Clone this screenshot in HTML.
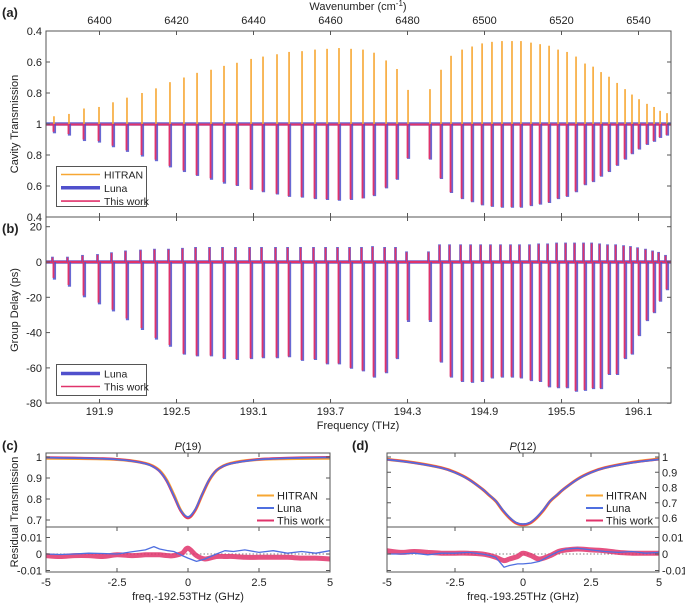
<!DOCTYPE html>
<html><head><meta charset="utf-8">
<style>
html,body{margin:0;padding:0;background:#fff;}
svg{display:block;font-family:"Liberation Sans",Arial,sans-serif;}
text{fill:#222;}
</style></head>
<body>
<svg id="fig" width="685" height="603" viewBox="0 0 685 603" xmlns="http://www.w3.org/2000/svg">
<g id="gA"></g>
<g id="gB"></g>
<g id="gC"></g>
<g id="gD"></g>
<text x="2" y="17" font-size="13" font-weight="bold">(a)</text>
<text x="2" y="233" font-size="13" font-weight="bold">(b)</text>
<text x="2" y="450" font-size="13" font-weight="bold">(c)</text>
<text x="352" y="450" font-size="13" font-weight="bold">(d)</text>
<text x="358" y="10" font-size="11" text-anchor="middle">Wavenumber (cm<tspan dy="-4" font-size="8">-1</tspan><tspan dy="4">)</tspan></text>
<text x="358" y="429" font-size="11" text-anchor="middle">Frequency (THz)</text>
<text transform="translate(18,124) rotate(-90)" font-size="11" text-anchor="middle">Cavity Transmission</text>
<text transform="translate(18,310) rotate(-90)" font-size="11" text-anchor="middle">Group Delay (ps)</text>
<text transform="translate(18,512) rotate(-90)" font-size="11" text-anchor="middle">Residual Transmission</text>
<text x="188" y="450" font-size="11" text-anchor="middle"><tspan font-style="italic">P</tspan>(19)</text>
<text x="523" y="450" font-size="11" text-anchor="middle"><tspan font-style="italic">P</tspan>(12)</text>
<text x="188" y="600" font-size="11" text-anchor="middle">freq.-192.53THz (GHz)</text>
<text x="523" y="600" font-size="11" text-anchor="middle">freq.-193.25THz (GHz)</text>
</svg>
<script>
// ---- data: line frequencies (THz)
var lineFreq=[191.545,191.662,191.779,191.896,192.005,192.114,192.231,192.340,192.449,192.558,192.660,192.769,192.870,192.971,193.081,193.174,193.283,193.377,193.478,193.579,193.673,193.766,193.860,193.953,194.039,194.133,194.218,194.304,194.475,194.561,194.639,194.725,194.803,194.881,194.958,195.036,195.114,195.184,195.262,195.333,195.403,195.473,195.543,195.613,195.683,195.746,195.808,195.870,195.933,195.995,196.049,196.104,196.166,196.221,196.268,196.322];
var hitranT=[0.95,0.935,0.90,0.89,0.86,0.83,0.80,0.77,0.73,0.70,0.67,0.65,0.625,0.605,0.58,0.565,0.55,0.535,0.53,0.52,0.515,0.51,0.515,0.52,0.54,0.59,0.645,0.78,0.775,0.65,0.56,0.52,0.50,0.48,0.47,0.465,0.465,0.465,0.475,0.485,0.495,0.52,0.535,0.565,0.61,0.63,0.665,0.695,0.735,0.775,0.81,0.84,0.87,0.89,0.915,0.93];
var lunaT=[0.94,0.925,0.89,0.88,0.85,0.82,0.79,0.76,0.72,0.69,0.665,0.64,0.615,0.6,0.575,0.56,0.545,0.53,0.525,0.515,0.51,0.505,0.51,0.52,0.535,0.585,0.64,0.775,0.77,0.645,0.555,0.515,0.495,0.475,0.465,0.46,0.46,0.46,0.47,0.48,0.49,0.515,0.53,0.56,0.605,0.625,0.66,0.69,0.73,0.77,0.805,0.835,0.865,0.885,0.91,0.925];
var thisT=[0.95,0.935,0.9,0.89,0.86,0.83,0.8,0.77,0.73,0.7,0.67,0.65,0.625,0.605,0.58,0.565,0.55,0.535,0.53,0.52,0.515,0.51,0.515,0.52,0.54,0.59,0.645,0.78,0.775,0.65,0.56,0.52,0.5,0.48,0.47,0.465,0.465,0.465,0.475,0.485,0.495,0.52,0.535,0.565,0.61,0.63,0.665,0.695,0.735,0.775,0.81,0.84,0.87,0.89,0.915,0.93];
var gdNeg=[-10,-14,-20,-24,-28,-33,-38.5,-44,-48,-52.5,-53.5,-53.5,-55,-55.5,-55,-54.5,-54.5,-54,-56,-55.5,-58,-58,-60.5,-62,-65.5,-63,-55,-34,-34,-57,-65.5,-68,-68.5,-68,-66,-65.5,-65.5,-66,-67.5,-68,-71,-71.5,-71.5,-73.5,-73,-72,-72,-64,-64,-55,-52.5,-42,-33.5,-29,-22.5,-16];
var gdThis=[-9,-13,-19,-23,-27,-32,-37.5,-43,-47,-52,-53,-53,-54.5,-55,-54.5,-54,-54,-53.5,-55.5,-55,-57.5,-57.5,-60,-61.5,-65,-62.5,-54.5,-33,-33,-56.5,-65,-67.5,-68,-67.5,-65.5,-65,-65,-65.5,-67,-67.5,-70.5,-71,-71,-73,-72.5,-71.5,-71.5,-63.5,-63.5,-54.5,-52,-41.5,-33,-28.5,-22,-15.5];
var gdPos=[3,3,4,4.5,5.5,6.5,7,7.5,7.5,8,8.5,8.5,8.5,8.5,8.5,8.5,8.5,8.5,8.5,8.5,8.5,8.5,8.5,8.5,9,8.5,8.5,6,6,10,10,10,10,10,10,10,10,10,10,10.5,10.5,11,11,11,11,11,10.5,10,10,9.5,9,8.3,7.5,6.5,5.7,4];
var freqTicks=[191.9,192.5,193.1,193.7,194.3,194.9,195.5,196.1];
var waveTicks=[6400,6420,6440,6460,6480,6500,6520,6540];
var transTickVals=[0.4,0.6,0.8,1,0.8,0.6,0.4];
var gdTicks=[20,0,-20,-40,-60,-80];
// panel c/d profiles
var profX=[-5,-4,-3,-2.5,-2,-1.5,-1.25,-1,-0.75,-0.5,-0.25,0,0.25,0.5,0.75,1,1.25,1.5,2,2.5,3,4,5];
var cHitran=[0.994,0.993,0.991,0.988,0.982,0.970,0.958,0.935,0.89,0.82,0.745,0.71,0.745,0.82,0.89,0.935,0.958,0.970,0.982,0.988,0.991,0.993,0.994];
var cLuna=[0.997,0.995,0.992,0.988,0.981,0.968,0.955,0.932,0.886,0.816,0.745,0.715,0.75,0.824,0.893,0.936,0.957,0.968,0.98,0.988,0.992,0.996,0.998];
var cThis=[0.998,0.996,0.993,0.989,0.982,0.969,0.956,0.932,0.885,0.814,0.742,0.71,0.746,0.822,0.892,0.936,0.957,0.969,0.981,0.989,0.993,0.997,0.999];
var dHitran=[0.985,0.963,0.93,0.90,0.855,0.79,0.75,0.71,0.65,0.60,0.565,0.555,0.565,0.60,0.65,0.71,0.75,0.79,0.855,0.90,0.93,0.965,0.987];
var dLuna=[0.983,0.961,0.928,0.898,0.853,0.79,0.752,0.712,0.655,0.605,0.57,0.56,0.57,0.605,0.655,0.712,0.752,0.79,0.853,0.898,0.928,0.962,0.984];
var dThis=[0.984,0.962,0.929,0.899,0.854,0.79,0.751,0.711,0.652,0.602,0.567,0.557,0.567,0.602,0.652,0.711,0.751,0.79,0.854,0.899,0.929,0.963,0.985];
var resX=[-5,-4.5,-4,-3.5,-3,-2.5,-2,-1.5,-1.2,-1,-0.7,-0.5,-0.2,0,0.3,0.6,1,1.3,1.6,2,2.5,3,3.5,4,4.5,5];
var cResLuna=[0,-0.3,0,0.5,0.3,0,1.3,2.5,4.5,3,2,1.5,-1,-2.5,-4.5,-3,0,2,1.5,2.5,1,2,0.5,1.5,0.5,2];
var cResThis=[-1,-1.5,-1,-1,-1.5,-0.5,-1,-0.5,-0.5,-0.5,-1,-1,0.5,3.5,-1,-3,-1.5,-1.5,-1.5,-2,-2,-2,-2,-2.5,-2.5,-3];
var dResLuna=[0,0,0.5,-0.5,0.5,0.5,1,0,-1,-2,-8,-7,-6,-6,-5.5,-4.5,-1,1.5,3,3.5,2.5,1.5,1,1.5,0.5,1];
var dResThis=[2,1,1.5,1,0.5,0.5,0.5,0,-1,-2,-4,-3,-1.5,0.5,-1,-3,-1,1.5,2.5,3,2.5,2,1,0.5,0.5,0.5];
var cTicksY=[1,0.9,0.8,0.7];
var dTicksY=[1,0.9,0.8,0.7,0.6];
var resTicks=[0.01,0,-0.01];
var detTicks=[-5,-2.5,0,2.5,5];

var NS='http://www.w3.org/2000/svg';
var COL_H='#f7a733', COL_L='#5050cc', COL_T='#e0336b', COL_L2='#4f6fe0';
function mk(parent,tag,attrs){var e=document.createElementNS(NS,tag);for(var k in attrs)e.setAttribute(k,attrs[k]);parent.appendChild(e);return e;}
function txt(parent,x,y,s,anchor,size){var t=mk(parent,'text',{x:x,y:y,'font-size':size||11,'text-anchor':anchor||'middle'});t.textContent=s;return t;}
function smoothPath(pts){
  var d='M'+pts[0][0].toFixed(1)+','+pts[0][1].toFixed(1);
  for(var i=0;i<pts.length-1;i++){
    var p0=pts[i-1]||pts[i],p1=pts[i],p2=pts[i+1],p3=pts[i+2]||p2;
    var c1x=p1[0]+(p2[0]-p0[0])/6,c1y=p1[1]+(p2[1]-p0[1])/6;
    var c2x=p2[0]-(p3[0]-p1[0])/6,c2y=p2[1]-(p3[1]-p1[1])/6;
    d+=' C'+c1x.toFixed(1)+','+c1y.toFixed(1)+' '+c2x.toFixed(1)+','+c2y.toFixed(1)+' '+p2[0].toFixed(1)+','+p2[1].toFixed(1);
  }
  return d;
}

// ---- axes for a/b
var AX0=46,AX1=671,F0=191.483,F1=196.353;
function fx(f){return AX0+(f-F0)/(F1-F0)*(AX1-AX0);}
function wx(w){return 99.5+(w-6400)*3.85;}
function yaUp(v){return 124-(1-v)*155;}
function yaDn(v){return 124+(1-v)*155;}
function yb(v){return 262-v*1.765;}

var gA=document.getElementById('gA'),gB=document.getElementById('gB');
var el;
el=mk(gA,'line',{x1:AX0,x2:AX1,y1:124,y2:124,stroke:COL_L,'stroke-width':3.5,opacity:0.85});


el=mk(gA,'line',{x1:AX0,x2:AX1,y1:124.5,y2:124.5,stroke:COL_T,'stroke-width':2});


for(var i=0;i<lineFreq.length;i++){
  var x=fx(lineFreq[i]);
  el=mk(gA,'line',{x1:x,x2:x,y1:124,y2:yaUp(hitranT[i]),stroke:COL_H,'stroke-width':1.6});
  
  
  el=mk(gA,'line',{x1:x+0.5,x2:x+0.5,y1:124,y2:yaDn(lunaT[i]),stroke:COL_L,'stroke-width':3.2,opacity:0.85});
  
  
  el=mk(gA,'line',{x1:x-0.5,x2:x-0.5,y1:124,y2:yaDn(thisT[i]),stroke:COL_T,'stroke-width':1.8});
  
  
}
el=mk(gA,'rect',{x:AX0,y:31,width:AX1-AX0,height:186,fill:'none',stroke:'#555','stroke-width':1});


transTickVals.forEach(function(v,k){
  var y=31+k*31;
  mk(gA,'line',{x1:AX0,x2:AX0+4,y1:y,y2:y,stroke:'#555'});
  mk(gA,'line',{x1:AX1,x2:AX1-4,y1:y,y2:y,stroke:'#555'});
  el=txt(gA,AX0-4,y+4,String(v),'end',11);
  
  
});
waveTicks.forEach(function(w){
  var x=wx(w);
  mk(gA,'line',{x1:x,x2:x,y1:31,y2:35,stroke:'#555'});
  mk(gA,'line',{x1:x,x2:x,y1:217,y2:213,stroke:'#555'});
  el=txt(gA,x,24,String(w),'middle',11);
  
  
});
var lg=mk(gA,'g',{});


mk(lg,'rect',{x:56.5,y:166.5,width:90,height:40,fill:'#fff',stroke:'#555'});
[['HITRAN',COL_H,1.6],['Luna',COL_L,3.5],['This work',COL_T,1.6]].forEach(function(e,k){
  var y=174.5+k*13.3;
  var g=mk(lg,'g',{});
  
  
  mk(g,'line',{x1:61,x2:100,y1:y,y2:y,stroke:e[1],'stroke-width':e[2]});
  txt(g,104,y+4,e[0],'start',10.5);
});

// panel b
el=mk(gB,'line',{x1:AX0,x2:AX1,y1:yb(0),y2:yb(0),stroke:COL_L,'stroke-width':3.5,opacity:0.85});


el=mk(gB,'line',{x1:AX0,x2:AX1,y1:yb(0),y2:yb(0),stroke:COL_T,'stroke-width':2.2});


for(var i=0;i<lineFreq.length;i++){
  var x=fx(lineFreq[i]);
  el=mk(gB,'line',{x1:x-1.5,x2:x-1.5,y1:yb(0),y2:yb(gdPos[i]),stroke:COL_L,'stroke-width':2.8,opacity:0.85});
  
  
  el=mk(gB,'line',{x1:x-1.5,x2:x-1.5,y1:yb(0),y2:yb(gdPos[i]-0.5),stroke:COL_T,'stroke-width':1.6});
  
  
  el=mk(gB,'line',{x1:x+0.5,x2:x+0.5,y1:yb(0),y2:yb(gdNeg[i]),stroke:COL_L,'stroke-width':3.2,opacity:0.85});
  
  
  el=mk(gB,'line',{x1:x-0.5,x2:x-0.5,y1:yb(0),y2:yb(gdThis[i]),stroke:COL_T,'stroke-width':1.8});
  
  
}
el=mk(gB,'rect',{x:AX0,y:217,width:AX1-AX0,height:186,fill:'none',stroke:'#555','stroke-width':1});


gdTicks.forEach(function(v){
  var y=yb(v);
  mk(gB,'line',{x1:AX0,x2:AX0+4,y1:y,y2:y,stroke:'#555'});
  mk(gB,'line',{x1:AX1,x2:AX1-4,y1:y,y2:y,stroke:'#555'});
  el=txt(gB,AX0-4,y+4,String(v),'end',11);
  
  
});
freqTicks.forEach(function(f){
  var x=fx(f);
  mk(gB,'line',{x1:x,x2:x,y1:403,y2:399,stroke:'#555'});
  mk(gB,'line',{x1:x,x2:x,y1:217,y2:221,stroke:'#555'});
  el=txt(gB,x,415,f.toFixed(1),'middle',11);
  
  
});
lg=mk(gB,'g',{});


mk(lg,'rect',{x:56.5,y:364.5,width:90,height:31,fill:'#fff',stroke:'#555'});
[['Luna',COL_L,3.5],['This work',COL_T,1.6]].forEach(function(e,k){
  var y=373.5+k*13;
  var g=mk(lg,'g',{});
  
  
  mk(g,'line',{x1:61,x2:100,y1:y,y2:y,stroke:e[1],'stroke-width':e[2]});
  txt(g,104,y+4,e[0],'start',10.5);
});

// panels c,d
function panel(g,L,R,prof,ptop,ticksY,resL,resT,rightAxis,legX,nm){
  function X(v){return L+(v+5)/10*(R-L);}
  function YU(v){return 457+(1-v)*ptop;}
  function YR(v){return 554-v*1650;}
  var top=453,mid=527,bot=572;
  [[prof[0],COL_H,3,'hitran'],[prof[2],COL_T,2.4,'thiswork'],[prof[1],COL_L2,1.6,'luna']].forEach(function(s){
    var pts=profX.map(function(x,k){return [X(x),YU(s[0][k])];});
    var p=mk(g,'path',{d:smoothPath(pts),fill:'none',stroke:s[1],'stroke-width':s[2]});
    
    
  });
  var z=mk(g,'line',{x1:L,x2:R,y1:YR(0),y2:YR(0),stroke:'#555','stroke-dasharray':'1.5,2','stroke-width':0.8});
  
  
  var pts=resX.map(function(x,k){return [X(x),YR(resT[k]/1000)];});
  var p=mk(g,'path',{d:smoothPath(pts),fill:'none',stroke:COL_T,'stroke-width':5,opacity:0.85});
  
  
  pts=resX.map(function(x,k){return [X(x),YR(resL[k]/1000)];});
  p=mk(g,'polyline',{points:pts.map(function(q){return q[0].toFixed(1)+','+q[1].toFixed(1);}).join(' '),fill:'none',stroke:COL_L2,'stroke-width':1.3,'stroke-linejoin':'round'});
  
  
  var f=mk(g,'rect',{x:L,y:top,width:R-L,height:bot-top,fill:'none',stroke:'#555'});
  
  
  mk(g,'line',{x1:L,x2:R,y1:mid,y2:mid,stroke:'#555'});
  ticksY.forEach(function(v){
    var y=YU(v);
    mk(g,'line',{x1:L,x2:L+4,y1:y,y2:y,stroke:'#555'});
    mk(g,'line',{x1:R,x2:R-4,y1:y,y2:y,stroke:'#555'});
    var t=txt(g,rightAxis?R+3:L-4,y+4,String(v),rightAxis?'start':'end',11);
    
    
  });
  resTicks.forEach(function(v){
    var y=YR(v);
    mk(g,'line',{x1:L,x2:L+4,y1:y,y2:y,stroke:'#555'});
    mk(g,'line',{x1:R,x2:R-4,y1:y,y2:y,stroke:'#555'});
    var t=txt(g,rightAxis?R+3:L-4,y+4,String(v),rightAxis?'start':'end',11);
    
    
  });
  detTicks.forEach(function(v){
    var x=X(v);
    mk(g,'line',{x1:x,x2:x,y1:bot,y2:bot-4,stroke:'#555'});
    mk(g,'line',{x1:x,x2:x,y1:top,y2:top+4,stroke:'#555'});
    mk(g,'line',{x1:x,x2:x,y1:mid,y2:mid+4,stroke:'#555'});
    var t=txt(g,x,586,String(v),'middle',11);
    
    
  });
  var lgd=mk(g,'g',{});
  
  
  [['HITRAN',COL_H],['Luna',COL_L2],['This work',COL_T]].forEach(function(e,k){
    var y=495.5+k*12.5;
    var ge=mk(lgd,'g',{});
    
    
    mk(ge,'line',{x1:legX,x2:legX+17,y1:y,y2:y,stroke:e[1],'stroke-width':2});
    txt(ge,legX+20,y+4,e[0],'start',11);
  });
}
panel(document.getElementById('gC'),46,330,[cHitran,cLuna,cThis],210,cTicksY,cResLuna,cResThis,false,257,'c');
panel(document.getElementById('gD'),387,659,[dHitran,dLuna,dThis],152.5,dTicksY,dResLuna,dResThis,true,586,'d');
</script>
</body></html>
